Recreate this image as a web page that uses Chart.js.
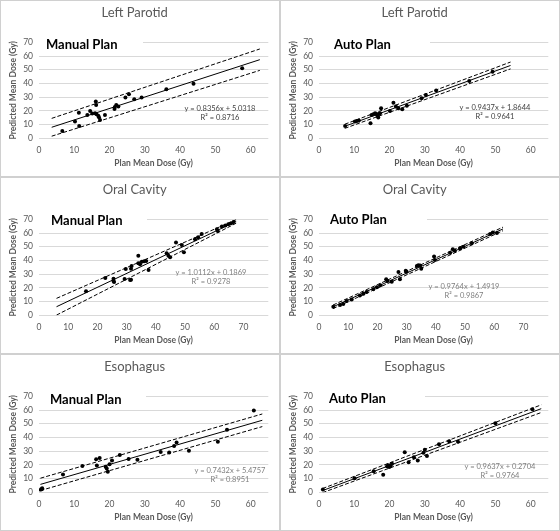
<!DOCTYPE html>
<html>
<head>
<meta charset="utf-8">
<script src="https://cdn.jsdelivr.net/npm/chart.js@4.4.1/dist/chart.umd.min.js"></script>
<style>
  body { margin: 0; background: #fff; width: 560px; height: 531px; position: relative; overflow: hidden; font-family: Lato, sans-serif; }
  .panel { position: absolute; width: 280px; height: 177px; box-sizing: border-box; border: 1px solid #d0d0d0; background: #fff; }
  .panel canvas { position: absolute; left: 0; top: 0; }
  .plan { position: absolute; left: 38px; height: 14px; line-height: 14px; background: #fff; font-weight: bold; font-size: 13px; color: #000; box-sizing: border-box; white-space: nowrap; }
  .eq { position: absolute; width: 120px; text-align: center; font-size: 7.5px; line-height: 9px; white-space: nowrap; }
</style>
</head>
<body>
<script>
'use strict';

// panel titles / plan names
var organs = ['Left Parotid', 'Left Parotid', 'Oral Cavity', 'Oral Cavity', 'Esophagus', 'Esophagus'];
var plans = ['Manual Plan', 'Auto Plan', 'Manual Plan', 'Auto Plan', 'Manual Plan', 'Auto Plan'];

// plan mean dose (x) / predicted mean dose (y), Gy
var lpManualX = [6.6, 10.2, 11.3, 11.4, 13.7, 14.5, 15.1, 15.9, 16.1, 16.2, 16.3, 16.8, 17.0, 17.3, 18.7, 21.4, 21.5, 21.9, 22.5, 24.5, 25.5, 27.0, 29.1, 36.1, 43.8, 57.6];
var lpManualY = [5.3, 12.2, 18.7, 9.0, 17.0, 19.9, 18.0, 18.2, 26.8, 24.3, 17.5, 16.5, 15.3, 13.4, 17.0, 21.3, 22.8, 24.3, 23.2, 29.7, 32.2, 28.4, 29.8, 35.8, 39.8, 51.0];

var lpAutoX = [7.4, 10.2, 10.7, 11.3, 14.6, 14.9, 15.4, 15.9, 16.3, 16.6, 16.8, 16.9, 17.3, 17.6, 20.1, 21.1, 21.8, 22.5, 23.6, 24.9, 29.1, 30.3, 33.2, 42.6, 49.2];
var lpAutoY = [9.0, 12.2, 12.6, 12.9, 11.0, 17.0, 17.5, 18.2, 17.5, 16.3, 15.1, 17.7, 18.2, 21.9, 19.9, 26.0, 23.1, 21.9, 21.1, 23.8, 29.2, 31.6, 34.8, 41.8, 48.6];

var ocManualX = [16.1, 22.7, 25.5, 25.5, 25.7, 29.3, 29.7, 31.2, 31.5, 31.5, 31.7, 34.0, 34.0, 34.6, 35.2, 36.0, 36.7, 37.5, 43.7, 44.3, 44.9, 46.9, 48.9, 49.6, 53.4, 54.5, 55.7, 60.9, 61.2, 62.6, 63.8, 64.8, 65.8, 66.6];
var ocManualY = [17.5, 27.2, 25.0, 26.7, 24.2, 26.5, 33.8, 25.8, 34.0, 26.0, 36.0, 43.5, 37.9, 37.2, 39.1, 39.4, 39.6, 33.0, 45.2, 43.5, 42.3, 53.0, 51.3, 45.9, 55.4, 57.0, 59.3, 62.7, 61.5, 64.7, 65.5, 66.3, 67.1, 68.0];

var ocAutoX = [4.9, 7.2, 8.3, 9.5, 11.2, 14.0, 15.2, 16.3, 18.6, 19.8, 21.0, 23.0, 23.4, 24.9, 27.2, 27.7, 29.7, 30.0, 33.5, 34.0, 34.6, 35.0, 39.4, 39.7, 44.9, 45.8, 46.5, 48.3, 49.4, 52.3, 58.6, 59.5, 60.9];
var ocAutoY = [6.2, 7.5, 8.3, 10.5, 11.5, 14.5, 15.8, 17.0, 19.0, 20.4, 21.9, 26.3, 25.0, 24.5, 31.6, 26.3, 32.5, 31.8, 36.0, 36.5, 36.3, 34.0, 42.8, 40.3, 45.7, 48.1, 47.0, 48.9, 50.0, 52.5, 59.3, 60.3, 60.0];

var esManualX = [0.5, 0.8, 0.9, 6.8, 12.3, 16.2, 16.4, 17.2, 18.9, 19.2, 19.5, 20.0, 20.7, 22.9, 25.4, 27.9, 34.5, 36.9, 38.3, 39.0, 42.5, 50.7, 53.3, 60.9];
var esManualY = [2.0, 2.3, 2.9, 13.0, 19.2, 24.1, 19.6, 25.0, 18.6, 17.4, 15.0, 20.5, 23.2, 27.2, 24.2, 23.8, 29.3, 29.0, 33.7, 36.4, 30.3, 36.8, 45.7, 59.6];

var esAutoX = [1.1, 10.1, 15.5, 18.2, 19.3, 19.6, 19.9, 20.1, 20.3, 20.7, 24.3, 25.4, 26.9, 28.0, 29.6, 30.0, 30.6, 34.0, 36.9, 39.4, 50.0, 60.5];
var esAutoY = [2.1, 10.2, 15.4, 12.8, 19.0, 19.7, 18.4, 19.5, 19.2, 20.9, 29.2, 22.0, 25.6, 23.2, 28.9, 31.0, 26.4, 35.0, 37.2, 36.8, 50.4, 60.5];

var seriesX = [lpManualX, lpAutoX, ocManualX, ocAutoX, esManualX, esAutoX];
var seriesY = [lpManualY, lpAutoY, ocManualY, ocAutoY, esManualY, esAutoY];

// trendline y = a*x + b, R^2, drawn range, and dashed band half-widths at both ends
var slopes = [0.8356, 0.9437, 1.0112, 0.9764, 0.7432, 0.9637];
var intercepts = [5.0318, 1.8644, 0.1869, 1.4919, 5.4757, 0.2704];
var rSquared = ['0.8716', '0.9641', '0.9278', '0.9867', '0.8951', '0.9764'];
var fitStart = [3.6, 7.3, 6.0, 4.8, 0.4, 1.0];
var fitEnd = [62.6, 54.3, 67.5, 63.0, 63.3, 63.0];
var bandStart = [6.5, 1.5, 6.1, 1.3, 4.5, 1.5];
var bandEnd = [7.8, 2.5, 1.3, 1.3, 4.6, 2.8];

// axes
var xMax = [65, 65, 78.5, 78.5, 65, 65];
var yMax = 70;

// label placement (px inside panel)
var panelLeft = [0, 280, 0, 280, 0, 280];
var panelTop = [0, 0, 177, 177, 354, 354];
var planTextX = [45, 53, 50, 49, 49, 48];
var planBoxRight = [142, 149, 146, 146, 145, 144];
var planY = [43, 43, 42, 41, 44, 43];
var eqX = [219, 214, 210, 183, 229, 219];
var eqY = [107, 106, 94, 108, 115, 111];
var eqColor = ['#404040', '#404040', '#7f7f7f', '#7f7f7f', '#7f7f7f', '#7f7f7f'];

Chart.defaults.font.family = 'Lato, sans-serif';

function fmt(v) {
  return v.toFixed(4);
}

function trendPoint(p, x, off) {
  return { x: x, y: slopes[p] * x + intercepts[p] + off };
}

function lineSet(data, dash) {
  return {
    data: data,
    showLine: true,
    pointRadius: 0,
    borderColor: '#000',
    borderWidth: 1,
    borderDash: dash,
    fill: false
  };
}

function buildPanel(p) {
  var div = document.createElement('div');
  div.className = 'panel';
  div.style.left = panelLeft[p] + 'px';
  div.style.top = panelTop[p] + 'px';
  document.body.appendChild(div);

  var canvas = document.createElement('canvas');
  canvas.width = 278;
  canvas.height = 175;
  div.appendChild(canvas);

  var pts = seriesX[p].map(function(x, i) { return { x: x, y: seriesY[p][i] }; });

  new Chart(canvas, {
    type: 'scatter',
    data: {
      datasets: [
        {
          data: pts,
          pointRadius: 2,
          pointBackgroundColor: '#000',
          pointBorderColor: '#000',
          pointBorderWidth: 0
        },
        lineSet([trendPoint(p, fitStart[p], 0), trendPoint(p, fitEnd[p], 0)], []),
        lineSet([trendPoint(p, fitStart[p], bandStart[p]), trendPoint(p, fitEnd[p], bandEnd[p])], [4, 2]),
        lineSet([trendPoint(p, fitStart[p], -bandStart[p]), trendPoint(p, fitEnd[p], -bandEnd[p])], [4, 2])
      ]
    },
    options: {
      responsive: false,
      animation: false,
      layout: { padding: { left: 0, right: 10.7, top: 0, bottom: 8 } },
      plugins: {
        legend: { display: false },
        tooltip: { enabled: false },
        title: {
          display: true,
          text: organs[p],
          color: '#595959',
          font: { size: 13, weight: 'normal' },
          padding: { top: 4.5, bottom: 21.2 }
        }
      },
      scales: {
        x: {
          type: 'linear',
          min: 0,
          max: xMax[p],
          ticks: { stepSize: 10, includeBounds: false, padding: 6.5, maxRotation: 0, color: '#595959', font: { size: 8.5 } },
          grid: { display: false, drawTicks: false },
          border: { display: false },
          title: { display: true, text: 'Plan Mean Dose (Gy)', color: '#595959', font: { size: 8.5, weight: 'bold' }, padding: { top: 0, bottom: 0 } },
          afterFit: function(s) { s.height = 29.7; }
        },
        y: {
          min: 0,
          max: yMax,
          ticks: { stepSize: 10, padding: 6, color: '#595959', font: { size: 8.5 } },
          grid: { color: '#d9d9d9', drawTicks: false },
          border: { display: false },
          title: { display: true, text: 'Predicted Mean Dose (Gy)', color: '#595959', font: { size: 8.5, weight: 'bold' }, padding: { top: 7, bottom: 0 } },
          afterFit: function(s) { s.width = 38; }
        }
      }
    }
  });

  // "Manual Plan" / "Auto Plan" label, white box hides the top gridline
  var plan = document.createElement('div');
  plan.className = 'plan';
  plan.textContent = plans[p];
  plan.style.top = (planY[p] - 7) + 'px';
  plan.style.width = (planBoxRight[p] - 38) + 'px';
  plan.style.paddingLeft = (planTextX[p] - 38) + 'px';
  div.appendChild(plan);

  // trendline equation
  var eq = document.createElement('div');
  eq.className = 'eq';
  eq.style.left = (eqX[p] - 60) + 'px';
  eq.style.top = (eqY[p] - 4.5) + 'px';
  eq.style.color = eqColor[p];
  eq.innerHTML = 'y = ' + fmt(slopes[p]) + 'x + ' + fmt(intercepts[p]) + '<br>R\u00b2 = ' + rSquared[p];
  div.appendChild(eq);
}

for (var p = 0; p < 6; p++) {
  buildPanel(p);
}
</script>
</body>
</html>
